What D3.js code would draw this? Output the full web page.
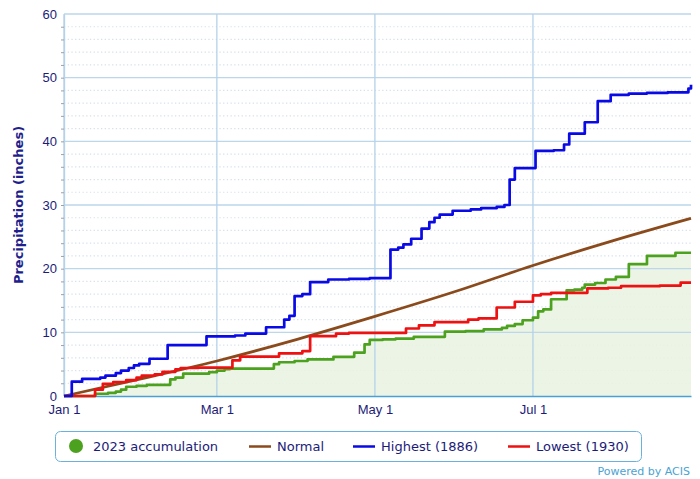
<!DOCTYPE html>
<html lang="en">
  <head>
    <meta charset="UTF-8" />
    <title>Accumulated Precipitation</title>
    <script src="https://cdn.jsdelivr.net/npm/d3@7"></script>
    <style>
      body { margin: 0; background: #fff; }
      svg { display: block; font-family: "DejaVu Sans", Verdana, sans-serif; }
    </style>
  </head>
  <body>
    <svg id="chart" width="700" height="479"></svg>
    <script>
      // --- data (dates are 2023 "MM-DD", values are cumulative inches) ---
      const accumDates = ["01-01","01-13","01-18","01-21","01-23","01-25","01-29","02-02","02-11","02-13","02-16","02-26","03-01","03-04","03-06","03-23","03-25","03-31","04-05","04-15","04-23","04-27","04-29","05-04","05-09","05-16","05-28","06-05","06-12","06-19","06-21","06-24","06-27","07-01","07-03","07-05","07-08","07-14","07-17","07-20","07-21","07-25","07-29","08-02","08-07","08-14","08-25","08-31"];
      const accumValues = [0,0.35,0.5,0.7,1.0,1.45,1.6,1.75,2.6,2.9,3.5,3.75,4.0,4.2,4.3,5.0,5.3,5.5,5.75,6.15,6.8,8.1,8.8,8.9,9.0,9.3,10.1,10.2,10.45,10.7,11.0,11.3,11.9,12.3,13.3,13.6,15.2,16.6,16.7,17.0,17.5,17.75,18.3,18.7,20.7,22.0,22.5,22.5];

      const normalDates = ["01-01","02-01","03-01","04-01","05-01","06-01","07-01","08-01","08-31"];
      const normalValues = [0,2.8,5.5,8.9,12.5,16.4,20.5,24.4,27.9];

      const highDates = ["01-01","01-04","01-08","01-15","01-17","01-21","01-23","01-26","01-28","01-30","02-03","02-10","02-25","03-08","03-12","03-20","03-27","03-29","03-31","04-03","04-06","04-13","04-21","04-29","05-07","05-10","05-12","05-15","05-19","05-22","05-24","05-26","05-31","06-07","06-11","06-17","06-20","06-22","06-24","07-02","07-09","07-13","07-15","07-21","07-26","07-31","08-07","08-14","08-22","08-30","08-31"];
      const highValues = [0,2.25,2.7,2.9,3.2,3.6,4.0,4.4,4.8,5.05,5.85,8.0,9.35,9.5,9.8,10.8,12.0,12.6,15.7,16.0,17.9,18.3,18.4,18.5,23.0,23.3,23.8,24.7,26.3,27.3,28.0,28.5,29.1,29.3,29.5,29.7,30.0,34.0,35.8,38.5,38.6,39.5,41.2,43.0,46.3,47.3,47.5,47.6,47.7,48.3,48.9];

      const lowDates = ["01-01","01-13","01-16","01-20","01-25","01-29","01-31","02-05","02-08","02-13","02-15","02-22","03-07","03-10","03-25","04-03","04-06","04-16","04-21","05-13","05-18","05-24","06-06","06-10","06-17","06-24","07-01","07-04","07-08","07-22","07-30","08-04","08-19","08-27","08-31"];
      const lowValues = [0,1.0,1.9,2.2,2.5,2.9,3.2,3.4,3.8,4.2,4.4,4.45,5.6,6.2,6.7,7.05,9.4,9.8,9.9,10.6,11.1,11.6,12.0,12.2,13.9,14.8,15.8,16.0,16.2,16.9,17.0,17.25,17.35,17.8,17.8];

      const xTickDates = ["01-01","03-01","05-01","07-01"];
      const legendLabels = ["2023 accumulation","Normal","Highest (1886)","Lowest (1930)"];
      const legendColors = ["#4ca21f","#8b4a1c","#0a0ae6","#ee1111"];

      const parse = d3.timeParse("%Y-%m-%d");
      const toDate = (s) => parse("2023-" + s);
      const zip = (ds, vs) => ds.map((d, i) => ({ date: toDate(d), value: vs[i] }));

      const accum = zip(accumDates, accumValues);
      const normal = zip(normalDates, normalValues);
      const high = zip(highDates, highValues);
      const low = zip(lowDates, lowValues);

      const margin = { top: 14, right: 9, bottom: 83, left: 64 };
      const width = 700 - margin.left - margin.right;
      const height = 479 - margin.top - margin.bottom;

      const svg = d3.select("#chart");
      const g = svg.append("g").attr("transform", `translate(${margin.left},${margin.top})`);

      const x = d3.scaleTime().domain([toDate("01-01"), toDate("08-31")]).range([0, width]);
      const y = d3.scaleLinear().domain([0, 60]).range([height, 0]);

      const navy = "#1c1c78";

      // minor dotted grid every 2 inches
      g.append("g")
        .selectAll("line")
        .data(d3.range(2, 60, 2).filter((v) => v % 10 !== 0))
        .join("line")
        .attr("x1", 0).attr("x2", width)
        .attr("y1", (d) => y(d)).attr("y2", (d) => y(d))
        .attr("stroke", "#d6e1ea")
        .attr("stroke-width", 1.2)
        .attr("stroke-dasharray", "1.3,2.4");

      // green area under 2023 accumulation
      g.append("path")
        .datum(accum)
        .attr("fill", "#e9f3e1")
        .attr("opacity", 0.85)
        .attr("d", d3.area().curve(d3.curveStepAfter)
          .x((d) => x(d.date)).y0(y(0)).y1((d) => y(d.value)));

      // major horizontal grid
      g.append("g")
        .selectAll("line")
        .data(d3.range(10, 61, 10))
        .join("line")
        .attr("x1", 0).attr("x2", width)
        .attr("y1", (d) => y(d)).attr("y2", (d) => y(d))
        .attr("stroke", "#bcd6ea")
        .attr("stroke-width", 1.3);

      // vertical grid
      g.append("g")
        .selectAll("line")
        .data(xTickDates.map(toDate))
        .join("line")
        .attr("x1", (d) => x(d)).attr("x2", (d) => x(d))
        .attr("y1", 0).attr("y2", height)
        .attr("stroke", "#b4d2ea")
        .attr("stroke-width", 1.3);

      // minor y ticks
      const yMinor = g.append("g")
        .call(d3.axisLeft(y).tickValues(d3.range(2, 60, 2)).tickSize(3).tickFormat(""));
      yMinor.select(".domain").remove();
      yMinor.selectAll("line").attr("stroke", "#888").attr("stroke-width", 0.8);

      // y axis labels
      const yAxis = g.append("g")
        .call(d3.axisLeft(y).tickValues(d3.range(0, 61, 10)).tickSize(0).tickPadding(7));
      yAxis.select(".domain").attr("stroke", "#b4d2ea").attr("stroke-width", 1.3);
      yAxis.selectAll("text").attr("fill", navy).style("font-size", "13px");

      // x axis
      const xAxis = g.append("g")
        .attr("transform", `translate(0,${height})`)
        .call(d3.axisBottom(x).tickValues(xTickDates.map(toDate)).tickSize(0).tickPadding(9)
          .tickFormat(d3.timeFormat("%b %-d")));
      xAxis.select(".domain").attr("stroke", "#4aa0d6").attr("stroke-width", 1.5);
      xAxis.selectAll("text").attr("fill", navy).style("font-size", "13px");

      // series lines
      const line = (curve) => d3.line().curve(curve).x((d) => x(d.date)).y((d) => y(d.value));
      const series = [
        { data: accum, color: legendColors[0], curve: d3.curveStepAfter },
        { data: normal, color: legendColors[1], curve: d3.curveMonotoneX },
        { data: low, color: legendColors[3], curve: d3.curveStepAfter },
        { data: high, color: legendColors[2], curve: d3.curveStepAfter },
      ];
      series.forEach((s) => {
        g.append("path")
          .datum(s.data)
          .attr("fill", "none")
          .attr("stroke", s.color)
          .attr("stroke-width", 2.7)
          .attr("stroke-linejoin", "round")
          .attr("d", line(s.curve)(s.data));
      });

      // y axis title
      svg.append("text")
        .attr("transform", `translate(23,${margin.top + height / 2}) rotate(-90)`)
        .attr("text-anchor", "middle")
        .attr("fill", "#1e1e8c")
        .style("font-size", "13px")
        .style("font-weight", "bold")
        .text("Precipitation (inches)");

      // legend
      const legend = svg.append("g");
      legend.append("rect")
        .attr("x", 55.5).attr("y", 431.5)
        .attr("width", 586).attr("height", 30)
        .attr("rx", 5)
        .attr("fill", "#fff")
        .attr("stroke", "#6ab2dc")
        .attr("stroke-width", 1);

      const itemX = [68, 249, 353, 508];
      legendLabels.forEach((label, i) => {
        const gx = itemX[i];
        if (i === 0) {
          legend.append("circle").attr("cx", gx + 8).attr("cy", 446).attr("r", 7).attr("fill", legendColors[0]);
        } else {
          legend.append("line")
            .attr("x1", gx).attr("x2", gx + 22)
            .attr("y1", 446.5).attr("y2", 446.5)
            .attr("stroke", legendColors[i]).attr("stroke-width", 2.5);
        }
        legend.append("text")
          .attr("x", i === 0 ? gx + 25 : gx + 28)
          .attr("y", 451)
          .attr("fill", navy)
          .style("font-size", "13px")
          .text(label);
      });

      svg.append("text")
        .attr("x", 690).attr("y", 475)
        .attr("text-anchor", "end")
        .attr("fill", "#4aa3d3")
        .style("font-size", "11px")
        .text("Powered by ACIS");
    </script>
  </body>
</html>
